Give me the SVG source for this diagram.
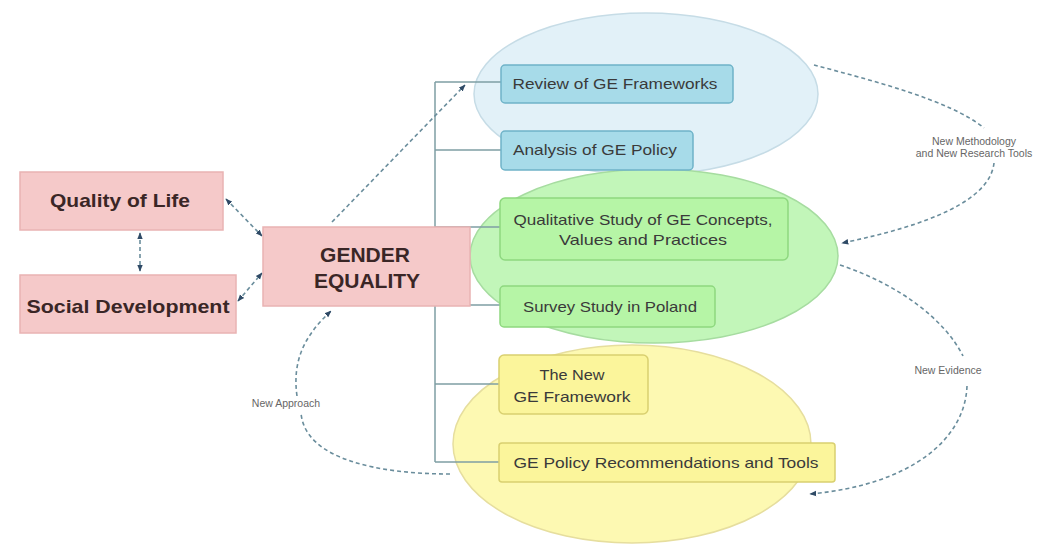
<svg xmlns="http://www.w3.org/2000/svg" width="1060" height="546" viewBox="0 0 1060 546">
<style>
.pink{fill:#f5c9c9;stroke:#e9b3b3;stroke-width:1.5}
.blue{fill:#a7dbe9;stroke:#6fb3c8;stroke-width:1.5}
.green{fill:#b6f5a6;stroke:#8ed87f;stroke-width:1.5}
.yellow{fill:#fbf59b;stroke:#d9d070;stroke-width:1.5}
.big{font-family:"Liberation Sans",Arial,sans-serif;font-weight:bold;fill:#3a2626;text-anchor:middle}
.t{font-family:"Liberation Sans",Arial,sans-serif;font-size:14.5px;fill:#3a3a3a;text-anchor:middle}
.lbl{font-family:"Liberation Sans",Arial,sans-serif;font-size:10.5px;fill:#666;text-anchor:middle}
.dash{fill:none;stroke:#6a8d9c;stroke-width:1.6;stroke-dasharray:4 3}
.tree{fill:none;stroke:#7f9ea4;stroke-width:1.5}
</style>
<defs>
<marker id="ah" viewBox="0 0 10 10" refX="9" refY="5" markerWidth="7" markerHeight="7" orient="auto-start-reverse" markerUnits="userSpaceOnUse">
<path d="M0,1 L10,5 L0,9 z" fill="#2f4a66"/>
</marker>
</defs>
<rect width="1060" height="546" fill="#ffffff"/>
<g id="ellipses">
<ellipse id="ellipse-blue" cx="646" cy="94" rx="172" ry="81" fill="#e2f1f8" stroke="#c6dce6" stroke-width="1.5"/>
<ellipse id="ellipse-yellow" cx="632" cy="444" rx="179" ry="99" fill="#fdf9b2" stroke="#e6de9e" stroke-width="1.5"/>
<ellipse id="ellipse-green" cx="654" cy="256" rx="184" ry="87" fill="#c2f6b9" stroke="#a6dca0" stroke-width="1.5"/>
</g>
<g id="connectors">
<path class="tree" d="M435 82 V462 M435 82 H501 M435 150 H501 M435 227 H500 M435 305 H500 M435 384 H499 M435 462 H499"/>
<path class="dash" d="M226 199 L262 236" marker-start="url(#ah)" marker-end="url(#ah)"/>
<path class="dash" d="M238 301 L262 273" marker-start="url(#ah)" marker-end="url(#ah)"/>
<path class="dash" d="M140 233 V271" marker-start="url(#ah)" marker-end="url(#ah)"/>
<path class="dash" d="M332 222 L465 85" marker-end="url(#ah)"/>
<path class="dash" d="M814 65 C870 80 950 100 984 128"/>
<path class="dash" d="M994 163 C990 200 930 225 842 243" marker-end="url(#ah)"/>
<path class="dash" d="M840 265 C900 285 945 320 963 356"/>
<path class="dash" d="M967 386 C965 440 910 485 810 494" marker-end="url(#ah)"/>
<path class="dash" d="M450 474 C380 474 305 460 301 413"/>
<path class="dash" d="M297 396 C292 360 305 335 331 311" marker-end="url(#ah)"/>
</g>
<g id="node-quality-of-life">
<rect class="pink" x="20" y="172" width="203" height="58"/>
<text class="big" x="120" y="207" font-size="18.5" textLength="140" lengthAdjust="spacingAndGlyphs">Quality of Life</text>
</g>
<g id="node-social-development">
<rect class="pink" x="20" y="275" width="216" height="58"/>
<text class="big" x="128" y="313" font-size="18.5" textLength="203" lengthAdjust="spacingAndGlyphs">Social Development</text>
</g>
<g id="node-gender-equality">
<rect class="pink" x="263" y="227" width="207" height="79"/>
<text class="big" x="365" y="262" font-size="21">GENDER</text>
<text class="big" x="367" y="288" font-size="21">EQUALITY</text>
</g>
<g id="node-review">
<rect class="blue" x="501" y="65" width="232" height="38" rx="4"/>
<text class="t" x="615" y="89" textLength="205" lengthAdjust="spacingAndGlyphs">Review of GE Frameworks</text>
</g>
<g id="node-analysis">
<rect class="blue" x="501" y="131" width="192" height="39" rx="4"/>
<text class="t" x="595" y="155" textLength="164" lengthAdjust="spacingAndGlyphs">Analysis of GE Policy</text>
</g>
<g id="node-qualitative">
<rect class="green" x="500" y="198" width="288" height="62" rx="5"/>
<text class="t" x="643" y="225" textLength="259" lengthAdjust="spacingAndGlyphs">Qualitative Study of GE Concepts,</text>
<text class="t" x="643" y="245" textLength="168" lengthAdjust="spacingAndGlyphs">Values and Practices</text>
</g>
<g id="node-survey">
<rect class="green" x="500" y="286" width="215" height="41" rx="4"/>
<text class="t" x="610" y="312" textLength="174" lengthAdjust="spacingAndGlyphs">Survey Study in Poland</text>
</g>
<g id="node-new-framework">
<rect class="yellow" x="499" y="355" width="149" height="59" rx="5"/>
<text class="t" x="572" y="380" textLength="65" lengthAdjust="spacingAndGlyphs">The New</text>
<text class="t" x="572" y="402" textLength="117" lengthAdjust="spacingAndGlyphs">GE Framework</text>
</g>
<g id="node-policy-recommendations">
<rect class="yellow" x="499" y="443" width="336" height="39" rx="3"/>
<text class="t" x="666" y="468" textLength="305" lengthAdjust="spacingAndGlyphs">GE Policy Recommendations and Tools</text>
</g>
<g id="labels">
<text class="lbl" x="974" y="145">New Methodology</text>
<text class="lbl" x="974" y="157">and New Research Tools</text>
<text class="lbl" x="948" y="374">New Evidence</text>
<text class="lbl" x="286" y="407">New Approach</text>
</g>
</svg>
